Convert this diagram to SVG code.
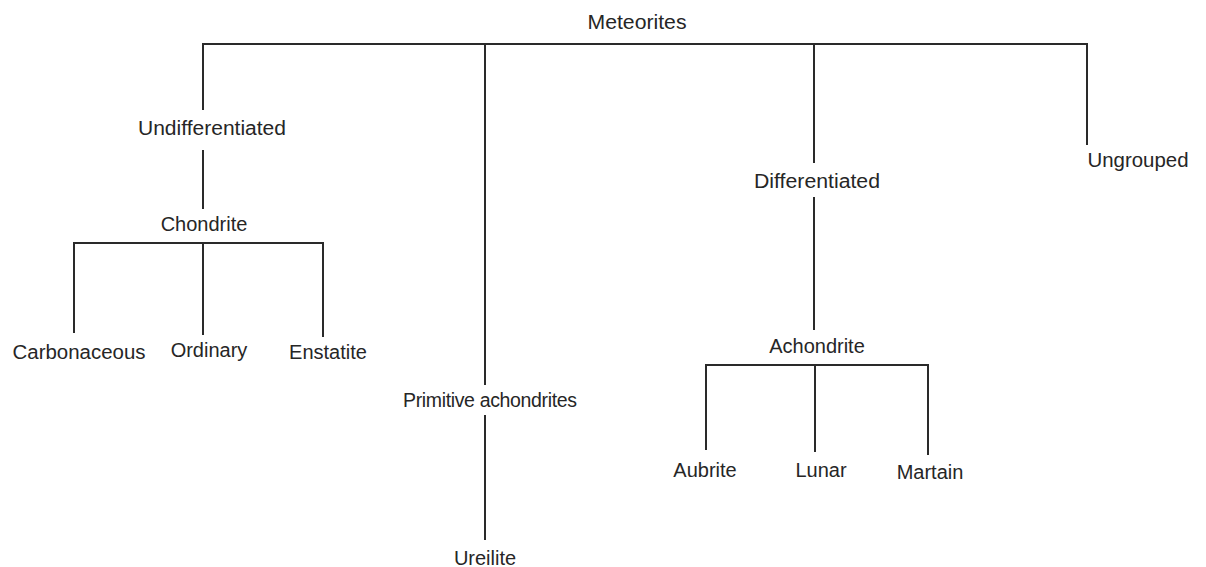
<svg xmlns="http://www.w3.org/2000/svg" width="1206" height="567" viewBox="0 0 1206 567">
<style>
.t{font-family:"Liberation Sans",Arial,sans-serif;font-size:20px;fill:#262626;text-anchor:middle}
.c line,.c path{stroke:#2a2a2a;stroke-width:2;fill:none}
</style>
<rect width="1206" height="567" fill="#fff"/>
<g class="c" id="connectors">
<path d="M203,110 V44 H1087 V145"/>
<line x1="485" y1="44" x2="485" y2="385"/>
<line x1="814" y1="44" x2="814" y2="163"/>
<line x1="203" y1="150" x2="203" y2="209"/>
<path d="M74,333 V243 H323 V337"/>
<line x1="203" y1="243" x2="203" y2="335"/>
<line x1="485" y1="415" x2="485" y2="540"/>
<line x1="814" y1="197" x2="814" y2="330"/>
<path d="M706,450 V365 H928 V455"/>
<line x1="815" y1="365" x2="815" y2="452"/>
</g>
<g id="meteorites"><text class="t" x="637" y="29" textLength="99" lengthAdjust="spacingAndGlyphs">Meteorites</text></g>
<g id="undifferentiated"><text class="t" x="212" y="135" textLength="148" lengthAdjust="spacingAndGlyphs">Undifferentiated</text></g>
<g id="chondrite"><text class="t" x="204" y="231">Chondrite</text></g>
<g id="carbonaceous"><text class="t" x="79" y="359" textLength="133" lengthAdjust="spacingAndGlyphs">Carbonaceous</text></g>
<g id="ordinary"><text class="t" x="209" y="357">Ordinary</text></g>
<g id="enstatite"><text class="t" x="328" y="359">Enstatite</text></g>
<g id="primitive"><text class="t" x="490" y="407" style="font-size:19.5px" textLength="174" lengthAdjust="spacing">Primitive achondrites</text></g>
<g id="ureilite"><text class="t" x="485" y="565">Ureilite</text></g>
<g id="differentiated"><text class="t" x="817" y="188" textLength="126" lengthAdjust="spacingAndGlyphs">Differentiated</text></g>
<g id="ungrouped"><text class="t" x="1138" y="167" textLength="101" lengthAdjust="spacingAndGlyphs">Ungrouped</text></g>
<g id="achondrite"><text class="t" x="817" y="353">Achondrite</text></g>
<g id="aubrite"><text class="t" x="705" y="477">Aubrite</text></g>
<g id="lunar"><text class="t" x="821" y="477">Lunar</text></g>
<g id="martain"><text class="t" x="930" y="479">Martain</text></g>
</svg>
